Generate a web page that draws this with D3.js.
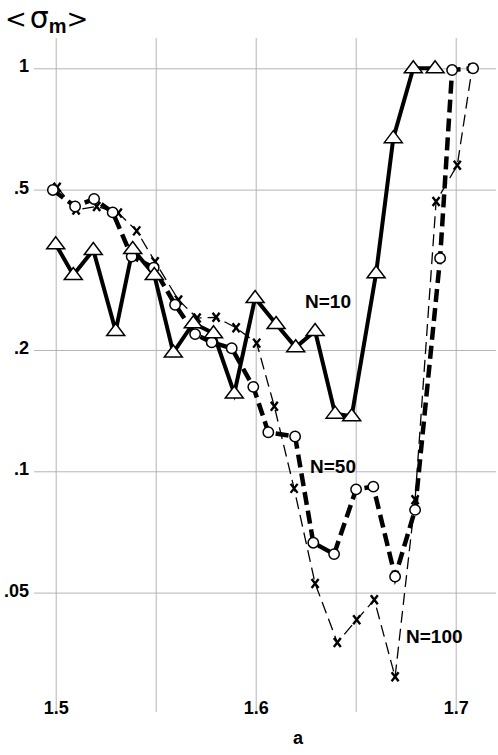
<!DOCTYPE html>
<html>
<head>
<meta charset="utf-8">
<script src="https://cdn.jsdelivr.net/npm/d3@7"></script>
<style>
  body { margin: 0; background: #fff; }
  svg { display: block; }
  .grid line { stroke: #b4b4b4; stroke-width: 1; }
  .grid path { display: none; }
  .grid text, .lbl { font-family: "Liberation Sans", Arial, sans-serif; font-weight: bold; fill: #000; }
</style>
</head>
<body>
<div id="svganchor"></div>
<script>
/*
------------------------------
data
------------------------------
*/
// N=10, triangles, thick solid
let n10A = [1.500, 1.5088, 1.5188, 1.530, 1.5385, 1.5493, 1.5588, 1.5688, 1.5789, 1.5893,
            1.5997, 1.6102, 1.620, 1.6297, 1.6397, 1.648, 1.6602, 1.6688, 1.6788, 1.6897];
let n10V = [0.366, 0.307, 0.354, 0.223, 0.356, 0.307, 0.197, 0.233, 0.220, 0.156,
            0.269, 0.232, 0.203, 0.223, 0.139, 0.137, 0.310, 0.671, 1.0, 1.0];

// N=50, circles, thick dashed
let n50A = [1.4986, 1.5097, 1.5192, 1.5285, 1.538, 1.549, 1.5597, 1.5697, 1.578, 1.588, 1.5988,
            1.6063, 1.6197, 1.6288, 1.6392, 1.6502, 1.6588, 1.6697, 1.6797, 1.6922, 1.6982, 1.7087];
let n50V = [0.499, 0.454, 0.474, 0.439, 0.341, 0.32, 0.259, 0.219, 0.209, 0.202, 0.162,
            0.125, 0.122, 0.0665, 0.0623, 0.0902, 0.0916, 0.0548, 0.0802, 0.338, 0.99, 1.0];

// N=100, x marks, thin dashed
let n100A = [1.5007, 1.5102, 1.5205, 1.5313, 1.5405, 1.5497, 1.5614, 1.5707, 1.5802, 1.5902, 1.6005,
             1.6093, 1.6192, 1.6297, 1.6408, 1.6505, 1.6593, 1.6697, 1.6797, 1.6902, 1.7008, 1.7082];
let n100V = [0.507, 0.445, 0.454, 0.4375, 0.395, 0.331, 0.266, 0.240, 0.241, 0.227, 0.208,
             0.145, 0.0907, 0.0527, 0.0376, 0.0428, 0.048, 0.0309, 0.085, 0.467, 0.575, 1.0];

let xTicks = [1.5, 1.55, 1.6, 1.65, 1.7];
let xTickLabels = ["1.5", "", "1.6", "", "1.7"];
let yTicks = [1, 0.5, 0.2, 0.1, 0.05];
let yTickLabels = ["1", ".5", ".2", ".1", ".05"];

let seriesNames = ["N=10", "N=50", "N=100"];

/*
------------------------------
canvas
------------------------------
*/
let width = 498;
let height = 755;
let plot = ({top: 38, right: 496, bottom: 712, left: 34});

let svg = d3.select("#svganchor")
    .append("svg")
    .attr("width", width)
    .attr("height", height);

let xScale = d3.scaleLinear().domain([1.5, 1.7]).range([55.7, 455.7]);
let yScale = d3.scaleLog().domain([0.05, 1]).range([592.6, 68.3]);

/*
------------------------------
grid + axes
------------------------------
*/
let xAxis = d3.axisBottom(xScale)
    .tickValues(xTicks)
    .tickFormat((d, i) => xTickLabels[i])
    .tickSize(-(plot.bottom - plot.top));

svg.append("g")
    .attr("class", "grid x")
    .attr("transform", "translate(0," + plot.bottom + ")")
    .call(xAxis)
    .selectAll("text")
    .attr("y", 2)
    .attr("dy", null)
    .attr("font-size", 18);

let yAxis = d3.axisLeft(yScale)
    .tickValues(yTicks)
    .tickFormat((d, i) => yTickLabels[i])
    .tickSize(-(plot.right - plot.left))
    .tickPadding(5);

svg.append("g")
    .attr("class", "grid y")
    .attr("transform", "translate(" + plot.left + ",0)")
    .call(yAxis)
    .selectAll("text")
    .attr("dy", "0.2em")
    .attr("font-size", 18);

svg.selectAll(".grid text").attr("font-family", null);

/*
------------------------------
series
------------------------------
*/
let line = d3.line()
    .x(d => xScale(d[0]))
    .y(d => yScale(d[1]));

let s10 = n10A.map((a, i) => [a, n10V[i]]);
let s50 = n50A.map((a, i) => [a, n50V[i]]);
let s100 = n100A.map((a, i) => [a, n100V[i]]);

svg.append("path")
    .datum(s100)
    .attr("d", line)
    .attr("fill", "none")
    .attr("stroke", "#000")
    .attr("stroke-width", 1.3)
    .attr("stroke-dasharray", "12,6");

svg.append("path")
    .datum(s50)
    .attr("d", line)
    .attr("fill", "none")
    .attr("stroke", "#000")
    .attr("stroke-width", 4.5)
    .attr("stroke-dasharray", "13,6");

svg.append("path")
    .datum(s10)
    .attr("d", line)
    .attr("fill", "none")
    .attr("stroke", "#000")
    .attr("stroke-width", 4)
    .attr("stroke-linejoin", "miter");

// x marks
svg.selectAll(".m100")
    .data(s100)
    .enter()
    .append("path")
    .attr("class", "m100")
    .attr("transform", d => "translate(" + xScale(d[0]) + "," + yScale(d[1]) + ")")
    .attr("d", "M-3.5,-4.5L3.5,4.5M3.5,-4.5L-3.5,4.5")
    .attr("stroke", "#000")
    .attr("stroke-width", 2.4)
    .attr("fill", "none");

// open circles
svg.selectAll(".m50")
    .data(s50)
    .enter()
    .append("circle")
    .attr("class", "m50")
    .attr("cx", d => xScale(d[0]))
    .attr("cy", d => yScale(d[1]))
    .attr("r", 5.2)
    .attr("fill", "#fff")
    .attr("stroke", "#000")
    .attr("stroke-width", 1.5);

// open triangles
svg.selectAll(".m10")
    .data(s10)
    .enter()
    .append("path")
    .attr("class", "m10")
    .attr("transform", d => "translate(" + xScale(d[0]) + "," + yScale(d[1]) + ")")
    .attr("d", "M-9,4.5L9,4.5L0,-7.5Z")
    .attr("fill", "#fff")
    .attr("stroke", "#000")
    .attr("stroke-width", 1.5)
    .attr("stroke-linejoin", "miter");

/*
------------------------------
labels
------------------------------
*/
let seriesLabelPos = [[305, 308], [310, 473], [406, 643]];
svg.selectAll(".slbl")
    .data(seriesNames)
    .enter()
    .append("text")
    .attr("class", "lbl slbl")
    .attr("x", (d, i) => seriesLabelPos[i][0])
    .attr("y", (d, i) => seriesLabelPos[i][1])
    .attr("font-size", 19)
    .text(d => d);

svg.append("text")
    .attr("class", "lbl")
    .attr("x", 298)
    .attr("y", 744)
    .attr("text-anchor", "middle")
    .attr("font-size", 18)
    .text("a");

// y title  < sigma_m >
let title = svg.append("text")
    .attr("x", 5)
    .attr("y", 28)
    .attr("font-family", "'DejaVu Sans', sans-serif");

title.append("tspan").attr("font-size", 26).text("<");
title.append("tspan").attr("font-size", 30).attr("dx", 3).text("σ");
title.append("tspan").attr("font-size", 20).attr("font-weight", "bold")
    .attr("font-family", "'Liberation Sans', Arial, sans-serif")
    .attr("dy", 5).text("m");
title.append("tspan").attr("font-size", 26).attr("dy", -5).text(">");
</script>
</body>
</html>
